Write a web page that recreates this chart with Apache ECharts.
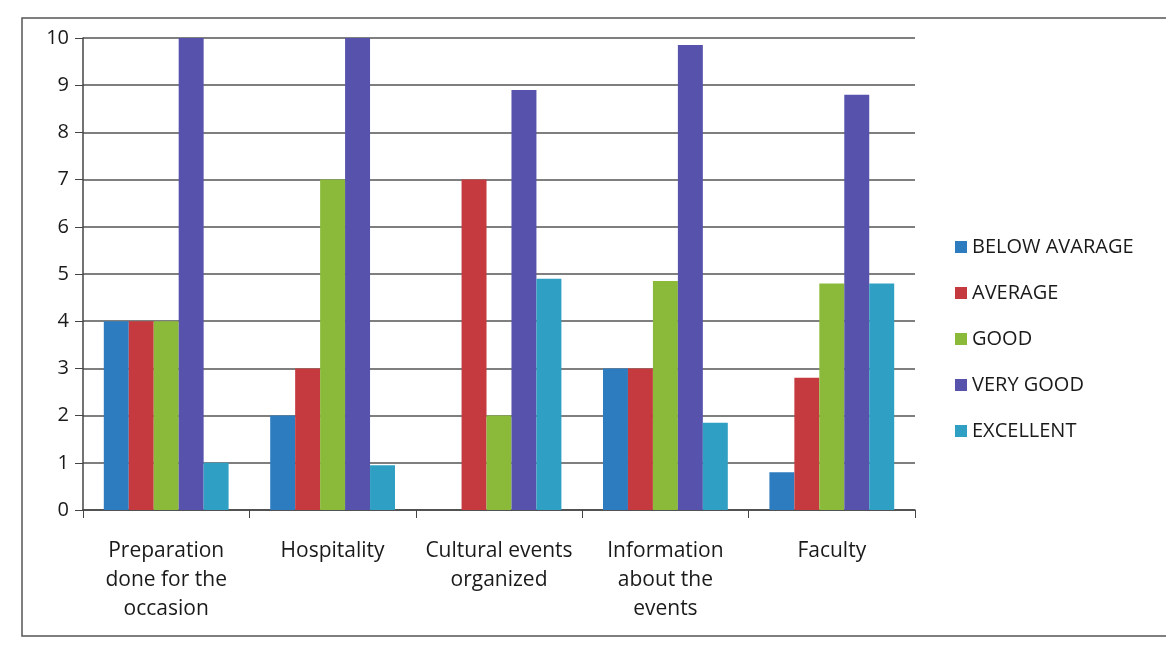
<!DOCTYPE html>
<html>
<head>
<meta charset="utf-8">
<script src="https://cdn.jsdelivr.net/npm/echarts@6/dist/echarts.min.js"></script>
<style>
  html, body { margin: 0; padding: 0; background: #fff; }
  #chart { width: 1166px; height: 646px; }
</style>
</head>
<body>
<div id="chart"></div>
<script>
// data
var categories = ['Preparation\ndone for the\noccasion', 'Hospitality', 'Cultural events\norganized', 'Information\nabout the\nevents', 'Faculty'];
var seriesNames = ['BELOW AVARAGE', 'AVERAGE', 'GOOD', 'VERY GOOD', 'EXCELLENT'];
var belowAverage = [4, 2, 0, 3, 0.8];
var average = [4, 3, 7, 3, 2.8];
var good = [4, 7, 2, 4.85, 4.8];
var veryGood = [10, 10, 8.9, 9.85, 8.8];
var excellent = [1, 0.95, 4.9, 1.85, 4.8];
var colors = ['#2e7cc0', '#c53a3f', '#8bba3b', '#5752ab', '#2fa0c3'];

var font = '"Open Sans", sans-serif';
var allValues = [belowAverage, average, good, veryGood, excellent];

var series = [];
for (var i = 0; i < seriesNames.length; i++) {
    series.push({
        name: seriesNames[i],
        type: 'bar',
        data: allValues[i],
        barGap: '0%',
        barCategoryGap: '25%',
        itemStyle: { color: colors[i] }
    });
}

var myChart = echarts.init(document.getElementById('chart'));
var option = {
    animation: false,
    color: colors,
    graphic: [{
        type: 'rect',
        shape: { x: 22, y: 18, width: 1160, height: 618 },
        style: { fill: 'none', stroke: '#555', lineWidth: 1.5 }
    }],
    grid: {
        left: 83,
        top: 38,
        right: 251,
        bottom: 136
    },
    legend: {
        orient: 'vertical',
        left: 950,
        top: 232,
        itemWidth: 12,
        itemHeight: 12,
        itemGap: 26,
        icon: 'rect',
        textStyle: { fontFamily: font, fontSize: 20, color: '#1a1a1a' },
        data: seriesNames
    },
    xAxis: {
        type: 'category',
        data: categories,
        axisLine: { lineStyle: { color: '#444', width: 1.5 } },
        axisTick: { show: true, length: 8, lineStyle: { color: '#444' } },
        axisLabel: {
            interval: 0,
            margin: 27,
            fontFamily: font,
            fontSize: 21,
            lineHeight: 29,
            color: '#1a1a1a'
        }
    },
    yAxis: {
        type: 'value',
        min: 0,
        max: 10,
        interval: 1,
        axisLine: { show: true, lineStyle: { color: '#444', width: 1.5 } },
        axisTick: { show: true, length: 8, lineStyle: { color: '#444' } },
        splitLine: { lineStyle: { color: '#555', width: 1.5 } },
        axisLabel: {
            margin: 14,
            fontFamily: font,
            fontSize: 20,
            color: '#1a1a1a'
        }
    },
    series: series
};
myChart.setOption(option);
</script>
</body>
</html>
